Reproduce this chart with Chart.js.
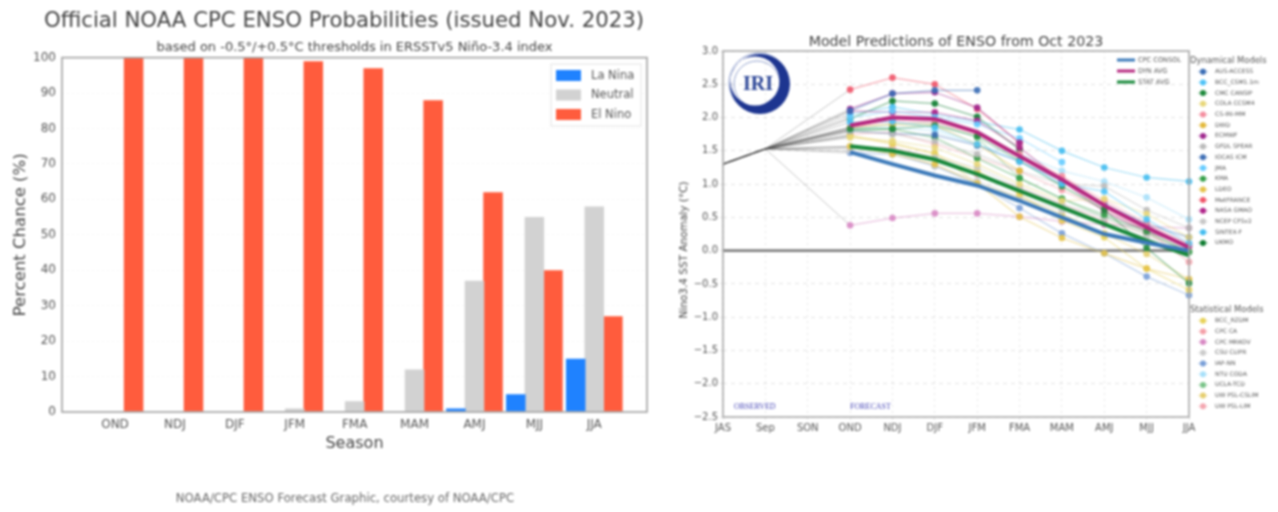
<!DOCTYPE html>
<html>
<head>
<meta charset="utf-8">
<title>ENSO probabilities and model predictions</title>
<script src="https://cdn.jsdelivr.net/npm/chart.js@4"></script>
<style>
  html, body { margin: 0; padding: 0; background: #fff; width: 1278px; height: 512px; overflow: hidden; }
  #wrap { position: relative; width: 1278px; height: 512px; filter: blur(1px); overflow: hidden; }
  canvas { position: absolute; top: 0; }
  #probs { left: 0; }
  #models { left: 660px; }
</style>
</head>
<body>
<div id="wrap">
  <canvas id="models" width="618" height="512"></canvas>
  <canvas id="probs" width="688" height="512"></canvas>
</div>
<script>
// left panel
const seasons = ['OND', 'NDJ', 'DJF', 'JFM', 'FMA', 'MAM', 'AMJ', 'MJJ', 'JJA'];
const laNina = [0, 0, 0, 0, 0, 0, 1, 5, 15];
const neutral = [0, 0, 0, 1, 3, 12, 37, 55, 58];
const elNino = [100, 100, 100, 99, 97, 88, 62, 40, 27];
const probNames = ['La Nina', 'Neutral', 'El Nino'];
const probColors = ['#1f82ff', '#d2d2d2', '#ff5c3d'];

// right panel
const axisLabels = ['JAS', 'Sep', 'SON', 'OND', 'NDJ', 'DJF', 'JFM', 'FMA', 'MAM', 'AMJ', 'MJJ', 'JJA'];
const observed = [1.3, 1.53];
const zeroLine = [0, 0, 0, 0, 0, 0, 0, 0, 0, 0, 0, 0];

const cpcConsol = [1.48, 1.3, 1.13, 0.98, 0.75, 0.5, 0.25, 0.12, 0.0];
const dynAvg = [1.88, 2.0, 1.98, 1.78, 1.42, 1.07, 0.68, 0.35, 0.05];
const statAvg = [1.57, 1.5, 1.37, 1.15, 0.9, 0.65, 0.4, 0.15, -0.07];

const ausAccess = [2.1, 2.36, 2.41, 2.41, null, null, null, null, null];
const bccCsm = [1.93, 1.94, 1.85, 1.6, 1.34, 1.0, 0.89, 0.47, 0.11];
const cmcCansip = [1.83, 1.83, 1.88, 1.72, 1.35, 0.97, 0.62, 0.04, -0.49];
const colaCcsm4 = [1.7, 1.65, 1.55, 1.3, 1.0, 0.75, 0.78, 0.55, 0.2];
const csIriMm = [1.85, 1.95, 1.92, 1.75, 1.45, 1.12, 0.75, 0.42, 0.1];
const dwd = [1.85, 1.9, 1.88, 1.6, 1.2, null, null, null, null];
const ecmwf = [2.13, 2.36, 2.38, 2.15, 1.62, null, null, null, null];
const gfdlSpear = [1.8, 1.75, 1.64, 1.45, 1.2, 1.0, 0.97, 0.61, 0.34];
const iocasIcm = [1.8, 1.76, 1.74, 1.58, 1.34, 1.05, 0.7, 0.4, 0.2];
const jma = [2.0, 2.1, 2.0, 1.9, 1.69, 1.33, null, null, null];
const kma = [1.8, 1.83, 1.7, 1.39, 1.09, 0.78, 0.54, 0.29, -0.02];
const ldeo = [1.57, 1.45, 1.3, 1.01, 0.51, 0.19, -0.04, -0.27, -0.43];
const metFrance = [2.42, 2.6, 2.5, 2.13, 1.62, null, null, null, null];
const nasaGmao = [2.1, 2.08, 2.08, 1.95, 1.55, 1.05, 0.59, 0.29, 0.07];
const ncepCfs = [1.55, 1.49, 1.4, 1.25, 0.95, 0.7, 0.5, 0.3, 0.1];
const sintexF = [2.05, 2.16, 2.05, 1.94, 1.82, 1.5, 1.25, 1.1, 1.04];
const ukmo = [1.98, 2.25, 2.21, 2.01, 1.52, null, null, null, null];

const bccRzdm = [1.73, 1.62, 1.45, 1.2, 0.85, 0.45, 0.2, -0.27, -0.59];
const cpcCa = [1.75, 1.78, 1.6, 1.4, 1.19, 0.91, 0.62, 0.3, -0.17];
const cpcMrkov = [0.38, 0.49, 0.56, 0.56, 0.51, 0.44, 0.39, 0.36, 0.34];
const csuClipr = [1.5, 1.5, 1.27, 1.05, 0.8, 0.6, 0.4, 0.2, 0.05];
const iapNn = [1.47, 1.45, 1.27, 1.0, 0.64, 0.26, -0.04, -0.39, -0.67];
const ntuCoda = [1.85, 1.85, 1.8, 1.58, 1.45, 1.2, 1.04, 0.8, 0.47];
const uclaTcd = [1.82, 1.9, 1.92, 1.7, 1.09, 0.78, 0.5, 0.25, -0.02];
const uwCslim = [1.72, 1.6, 1.47, 1.01, 0.8, 0.55, 0.26, -0.05, -0.43];
const uwLim = [1.55, 1.55, 1.4, 1.15, 0.95, 0.7, 0.45, 0.25, 0.0];

const avgNames = ['CPC CONSOL', 'DYN AVG', 'STAT AVG'];
const avgValues = [cpcConsol, dynAvg, statAvg];
const avgColors = ['#3b79b9', '#b5287f', '#17883a'];

const dynNames = ['AUS-ACCESS', 'BCC_CSM1.1m', 'CMC CANSIP', 'COLA CCSM4', 'CS-IRI-MM', 'DWD', 'ECMWF', 'GFDL SPEAR',
  'IOCAS ICM', 'JMA', 'KMA', 'LDEO', 'MetFRANCE', 'NASA GMAO', 'NCEP CFSv2', 'SINTEX-F', 'UKMO'];
const dynValues = [ausAccess, bccCsm, cmcCansip, colaCcsm4, csIriMm, dwd, ecmwf, gfdlSpear,
  iocasIcm, jma, kma, ldeo, metFrance, nasaGmao, ncepCfs, sintexF, ukmo];
const dynColors = ['#3a6db5', '#4fc3f7', '#1e8a3c', '#e8d77a', '#f48fa0', '#e3b93c', '#a0288e', '#bbbbbb',
  '#3f6fb5', '#66ccff', '#35a04a', '#e6c34a', '#f0566a', '#b0258a', '#c8c8c8', '#44bdf0', '#0f7d32'];

const statNames = ['BCC_RZDM', 'CPC CA', 'CPC MRKOV', 'CSU CLIPR', 'IAP-NN', 'NTU CODA', 'UCLA-TCD', 'UW PSL-CSLIM', 'UW PSL-LIM'];
const statValues = [bccRzdm, cpcCa, cpcMrkov, csuClipr, iapNn, ntuCoda, uclaTcd, uwCslim, uwLim];
const statColors = ['#e8d25a', '#f4a0a8', '#d889c4', '#cccccc', '#7aa0d8', '#a8e0fa', '#7cc48a', '#e6cf70', '#f4a6b0'];

const SANS = '"DejaVu Sans", sans-serif';
const SERIF = '"Liberation Serif", serif';

function withAlpha(hex, a) {
  const n = parseInt(hex.slice(1), 16);
  return `rgba(${n >> 16}, ${(n >> 8) & 255}, ${n & 255}, ${a})`;
}

// top and right edges of the plot box
const frame = (color, width) => ({
  id: 'frame',
  afterDatasetsDraw(chart) {
    const { ctx, chartArea: a } = chart;
    ctx.save();
    ctx.strokeStyle = color;
    ctx.lineWidth = width;
    ctx.strokeRect(a.left, a.top, a.right - a.left, a.bottom - a.top);
    ctx.restore();
  },
});

const probLegend = {
  id: 'probLegend',
  afterDraw(chart) {
    const { ctx } = chart;
    ctx.save();
    ctx.fillStyle = 'rgba(255,255,255,0.9)';
    ctx.strokeStyle = '#e4e4e4';
    ctx.lineWidth = 1;
    ctx.fillRect(551, 64, 90, 62);
    ctx.strokeRect(551, 64, 90, 62);
    ctx.font = `11.5px ${SANS}`;
    ctx.textBaseline = 'middle';
    probNames.forEach((name, i) => {
      const y = 70 + i * 19.5;
      ctx.fillStyle = probColors[i];
      ctx.fillRect(556, y, 25, 11);
      ctx.fillStyle = '#555';
      ctx.fillText(name, 591, y + 6);
    });
    ctx.restore();
  },
};

// main title sits left of the plot centre, footer under the chart
const pageText = {
  id: 'pageText',
  afterDraw(chart) {
    const { ctx } = chart;
    ctx.save();
    ctx.textAlign = 'center';
    ctx.textBaseline = 'middle';
    ctx.font = `21.25px ${SANS}`;
    ctx.fillStyle = '#444';
    ctx.fillText('Official NOAA CPC ENSO Probabilities (issued Nov. 2023)', 344, 21);
    ctx.font = `11.7px ${SANS}`;
    ctx.fillStyle = '#666';
    ctx.fillText('NOAA/CPC ENSO Forecast Graphic, courtesy of NOAA/CPC', 345, 499);
    ctx.restore();
  },
};

new Chart(document.getElementById('probs'), {
  type: 'bar',
  data: {
    datasets: [laNina, neutral, elNino].map((vals, i) => ({
      label: probNames[i],
      data: vals.map((v, k) => ({ x: k, y: v })),
      backgroundColor: probColors[i],
      categoryPercentage: 0.93,
      barPercentage: 1.05,
    })),
  },
  options: {
    responsive: false,
    animation: false,
    layout: { padding: { left: 0, right: 41, top: 40, bottom: 59 } },
    plugins: {
      legend: { display: false },
      tooltip: { enabled: false },
      subtitle: {
        display: true,
        fullSize: false,
        text: 'based on -0.5°/+0.5°C thresholds in ERSSTv5 Niño-3.4 index',
        color: '#444',
        font: { family: SANS, size: 13, weight: 'normal' },
        padding: { top: 0, bottom: 2 },
      },
    },
    scales: {
      x: {
        type: 'linear',
        offset: false,
        min: -0.885,
        max: 8.88,
        afterBuildTicks: (s) => { s.ticks = seasons.map((_, i) => ({ value: i })); },
        afterFit: (s) => { s.height = 41; },
        grid: { display: false },
        border: { display: false },
        ticks: {
          callback: (v) => seasons[v],
          color: '#555',
          font: { family: SANS, size: 12 },
          maxRotation: 0,
          autoSkip: false,
          padding: -2,
        },
        title: {
          display: true,
          text: 'Season',
          color: '#444',
          font: { family: SANS, size: 16 },
          padding: { top: 0, bottom: 0 },
        },
      },
      y: {
        min: 0,
        max: 100,
        afterFit: (s) => { s.width = 62; },
        grid: { color: 'rgba(0,0,0,0.035)', drawTicks: false },
        border: { display: false, dash: [2, 3] },
        ticks: { stepSize: 10, color: '#555', font: { family: SANS, size: 12 }, padding: 6 },
        title: {
          display: true,
          text: 'Percent Chance (%)',
          color: '#444',
          font: { family: SANS, size: 16.5 },
          padding: { top: 11, bottom: 0 },
        },
      },
    },
  },
  plugins: [frame('#a0a0a0', 1.6), probLegend, pageText],
});

// right panel: IRI badge, OBSERVED/FORECAST captions, axis title and the model legends
const iriBadge = {
  id: 'iriBadge',
  afterDraw(chart) {
    const { ctx } = chart;
    const cx = 100, cy = 84;
    ctx.save();
    ctx.strokeStyle = '#8f9fcc';
    ctx.lineWidth = 1;
    ctx.beginPath(); ctx.arc(cx - 1, cy - 1, 30, 0, Math.PI * 2); ctx.stroke();
    ctx.beginPath(); ctx.arc(cx - 3, cy, 23, 0, Math.PI * 2); ctx.stroke();
    ctx.fillStyle = '#1d3590';
    ctx.beginPath();
    ctx.arc(cx, cy, 30, 0, Math.PI * 2);
    ctx.arc(cx - 5, cy - 3, 24.5, 0, Math.PI * 2, true);
    ctx.fill('evenodd');
    ctx.font = `bold 20px ${SERIF}`;
    ctx.fillStyle = '#2b4596';
    ctx.textAlign = 'center';
    ctx.textBaseline = 'middle';
    ctx.fillText('IRI', cx - 2, cy + 1);
    ctx.restore();
  },
};

const captions = {
  id: 'captions',
  afterDraw(chart) {
    const { ctx } = chart;
    ctx.save();
    ctx.font = `8px ${SERIF}`;
    ctx.fillStyle = '#4a4ab8';
    ctx.textBaseline = 'middle';
    ctx.fillText('OBSERVED', 74, 407);
    ctx.fillText('FORECAST', 190, 407);
    ctx.translate(24, 250);
    ctx.rotate(-Math.PI / 2);
    ctx.font = `10.5px ${SANS}`;
    ctx.fillStyle = '#444';
    ctx.textAlign = 'center';
    ctx.fillText('Nino3.4 SST Anomaly (°C)', 0, 0);
    ctx.restore();
  },
};

const modelLegend = {
  id: 'modelLegend',
  afterDraw(chart) {
    const { ctx } = chart;
    ctx.save();
    ctx.textBaseline = 'middle';
    ctx.font = `6.6px ${SANS}`;
    avgNames.forEach((name, i) => {
      const y = 60 + i * 11;
      ctx.strokeStyle = avgColors[i];
      ctx.lineWidth = 3;
      ctx.beginPath(); ctx.moveTo(457, y); ctx.lineTo(475, y); ctx.stroke();
      ctx.fillStyle = '#555';
      ctx.fillText(name, 478, y);
    });
    const rows = (head, names, colors, y0) => {
      ctx.fillStyle = '#555';
      ctx.font = `8.4px ${SANS}`;
      ctx.fillText(head, 530, y0);
      ctx.font = `6px ${SANS}`;
      names.forEach((name, i) => {
        const y = y0 + 10.7 * (i + 1);
        ctx.strokeStyle = withAlpha(colors[i], 0.6);
        ctx.lineWidth = 1;
        ctx.beginPath(); ctx.moveTo(538, y); ctx.lineTo(548, y); ctx.stroke();
        ctx.fillStyle = colors[i];
        ctx.beginPath(); ctx.arc(543, y, 3, 0, Math.PI * 2); ctx.fill();
        ctx.fillStyle = '#555';
        ctx.fillText(name, 555, y);
      });
    };
    rows('Dynamical Models', dynNames, dynColors, 61);
    rows('Statistical Models', statNames, statColors, 310);
    ctx.restore();
  },
};

const forecastLine = (vals) => [null, null, null, ...vals];

const modelSets = (names, values, colors) => names.map((name, i) => ({
  label: name,
  data: forecastLine(values[i]),
  borderColor: withAlpha(colors[i], 0.5),
  backgroundColor: withAlpha(colors[i], 0.9),
  borderWidth: 1.2,
  pointRadius: 3.3,
  pointBorderWidth: 0,
  clip: false,
}));

const allForecasts = [...dynValues, ...statValues];

new Chart(document.getElementById('models'), {
  type: 'line',
  data: {
    labels: axisLabels,
    datasets: [
      ...avgNames.map((name, i) => ({
        label: name,
        data: forecastLine(avgValues[i]),
        borderColor: avgColors[i],
        borderWidth: 4,
        pointRadius: 0,
      })),
      ...modelSets(dynNames, dynValues, dynColors),
      ...modelSets(statNames, statValues, statColors),
      {
        label: 'zero',
        data: zeroLine,
        borderColor: '#808080',
        borderWidth: 2.8,
        pointRadius: 0,
      },
      // grey lead-ins from the observed months to each model's first season
      ...allForecasts.map((vals) => ({
        label: 'observed',
        data: [...observed, null, vals[0]],
        borderColor: 'rgba(70, 70, 70, 0.3)',
        borderWidth: 1,
        pointRadius: 0,
        spanGaps: true,
      })),
    ],
  },
  options: {
    responsive: false,
    animation: false,
    layout: { padding: { left: 0, right: 89, top: 34, bottom: 68 } },
    plugins: {
      legend: { display: false },
      tooltip: { enabled: false },
      title: {
        display: true,
        fullSize: false,
        text: 'Model Predictions of ENSO from Oct 2023',
        color: '#444',
        font: { family: SANS, size: 14.2, weight: 'normal' },
        padding: { top: 0, bottom: 0 },
      },
    },
    scales: {
      x: {
        afterFit: (s) => { s.height = 27; },
        grid: { color: 'rgba(0,0,0,0.11)', tickLength: 3 },
        border: { display: false, dash: [2, 4] },
        ticks: { color: '#555', font: { family: SANS, size: 10 }, maxRotation: 0, autoSkip: false, padding: 2 },
      },
      y: {
        min: -2.5,
        max: 3,
        afterFit: (s) => { s.width = 63; },
        grid: { color: 'rgba(0,0,0,0.11)', tickLength: 3 },
        border: { display: false, dash: [4, 4] },
        ticks: {
          stepSize: 0.5,
          color: '#555',
          font: { family: SANS, size: 10 },
          padding: 2,
          callback: (v) => v.toFixed(1).replace('-', '−'),
        },
      },
    },
  },
  plugins: [frame('#a8a8a8', 1.6), iriBadge, captions, modelLegend],
});
</script>
</body>
</html>
